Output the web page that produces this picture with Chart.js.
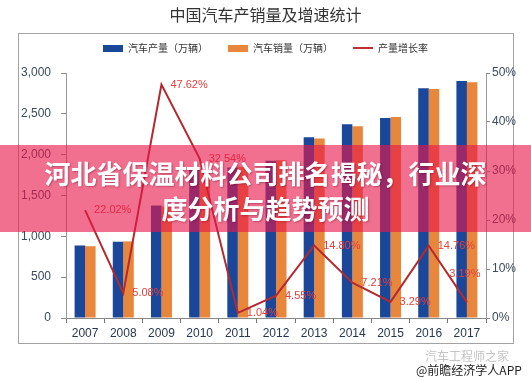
<!DOCTYPE html>
<html>
<head>
<meta charset="utf-8">
<script src="https://cdn.jsdelivr.net/npm/chart.js@4.4.0/dist/chart.umd.min.js"></script>
<style>
    html, body { margin: 0; padding: 0; background: #fff; }
    #wrap { position: relative; width: 531px; height: 380px; overflow: hidden; font-family: "Noto Sans CJK SC", sans-serif; }
    #frame { position: absolute; left: 18px; top: 33px; width: 494px; height: 309px; border: 1px solid #a3a3a3; }
    #myChart { position: absolute; left: 0; top: 0; }
    #banner {
        position: absolute; left: 0; top: 145px; width: 531px; height: 87px;
        background: rgba(232, 22, 74, 0.62); color: #fff; text-align: center;
        font-weight: bold; font-size: 26px; line-height: 35px; padding-top: 10px; box-sizing: border-box;
        text-shadow: 1px 1px 2px rgba(90, 0, 30, 0.35);
    }
    #src1 { position: absolute; left: 425px; top: 347px; font-size: 12px; color: #c4c4c4; }
    #src2 { position: absolute; left: 416px; top: 361px; font-size: 12px; color: #222; }
</style>
</head>
<body>
<div id="wrap">
    <div id="frame"></div>
    <canvas id="myChart" width="531" height="380"></canvas>
    <div id="banner">河北省保温材料公司排名揭秘，行业深<br>度分析与趋势预测</div>
    <div id="src1">汽车工程师之家</div>
    <div id="src2">@前瞻经济学人APP</div>
</div>
<script>
    const years = ['2007', '2008', '2009', '2010', '2011', '2012', '2013', '2014', '2015', '2016', '2017'];
    const produccion = [888, 934, 1379, 1826, 1842, 1927, 2212, 2372, 2450, 2812, 2902];
    const ventas = [879, 938, 1364, 1806, 1851, 1931, 2198, 2349, 2460, 2803, 2888];
    const crecimiento = [22.02, 5.08, 47.62, 32.54, 1.04, 4.55, 14.80, 7.21, 3.29, 14.76, 3.19];

    const narrow = '"Liberation Sans Narrow", "Arial Narrow", "Liberation Sans", sans-serif';

    // marcas de la leyenda (rectangulo / linea)
    const marca = (color, w, h) => {
        const c = document.createElement('canvas');
        c.width = w; c.height = h;
        const g = c.getContext('2d');
        g.fillStyle = color;
        g.fillRect(0, 0, w, h);
        return c;
    };

    // etiquetas de porcentaje junto a cada punto
    const rateLabels = {
        id: 'rateLabels',
        afterDatasetsDraw(chart) {
            const meta = chart.getDatasetMeta(2);
            const ctx = chart.ctx;
            ctx.save();
            ctx.font = '11px ' + narrow;
            ctx.fillStyle = '#e2403c';
            ctx.textBaseline = 'middle';
            meta.data.forEach((pt, i) => {
                const txt = crecimiento[i].toFixed(2) + '%';
                if (i === meta.data.length - 1) {
                    ctx.textAlign = 'center';
                    ctx.fillText(txt, pt.x - 2, pt.y - 28);
                } else {
                    ctx.textAlign = 'left';
                    ctx.fillText(txt, pt.x + 9, pt.y);
                }
            });
            ctx.restore();
        }
    };

    const ctx = document.getElementById('myChart').getContext('2d');
    new Chart(ctx, {
        type: 'bar',
        data: {
            labels: years,
            datasets: [{
                label: '汽车产量（万辆）',
                data: produccion,
                backgroundColor: '#1a479a',
                pointStyle: marca('#1a479a', 20, 7),
                yAxisID: 'y',
                order: 2
            }, {
                label: '汽车销量（万辆）',
                data: ventas,
                backgroundColor: '#e8863c',
                pointStyle: marca('#e8863c', 20, 7),
                yAxisID: 'y',
                order: 2
            }, {
                type: 'line',
                label: '产量增长率',
                data: crecimiento,
                borderColor: '#b42a2e',
                backgroundColor: '#b42a2e',
                borderWidth: 2,
                pointRadius: 0,
                pointStyle: marca('#c0302f', 20, 2),
                tension: 0,
                yAxisID: 'y1',
                order: 1
            }]
        },
        options: {
            responsive: false,
            animation: false,
            layout: { padding: { left: 0, right: 0, top: 0, bottom: 36 } },
            datasets: {
                bar: { categoryPercentage: 0.55, barPercentage: 1.0 }
            },
            plugins: {
                title: {
                    display: true,
                    text: '中国汽车产销量及增速统计',
                    color: '#333',
                    font: { family: '"Noto Sans CJK SC", sans-serif', size: 16, weight: 'normal', lineHeight: 1 },
                    padding: { top: 7, bottom: 0 }
                },
                legend: {
                    labels: {
                        usePointStyle: true,
                        pointStyleWidth: 20,
                        padding: 20,
                        color: '#333',
                        font: { family: '"Noto Sans CJK SC", sans-serif', size: 10 },
                        sort: (a, b) => a.datasetIndex - b.datasetIndex
                    }
                },
                tooltip: { enabled: false }
            },
            scales: {
                x: {
                    grid: { drawOnChartArea: false, tickLength: 5, color: '#777' },
                    border: { color: '#888' },
                    ticks: { color: '#26384f', padding: 3, font: { family: narrow, size: 12 } },
                    afterFit: (s) => { s.height = 26; }
                },
                // eje vacio arriba, solo para dejar aire bajo la leyenda
                xTop: {
                    type: 'category',
                    position: 'top',
                    grid: { display: false },
                    border: { display: false },
                    ticks: { display: false },
                    afterFit: (s) => { s.height = 10; }
                },
                y: {
                    position: 'left',
                    min: 0, max: 3000,
                    ticks: { stepSize: 500, color: '#3b4a5c', padding: 10, font: { family: narrow, size: 12 } },
                    grid: { drawOnChartArea: false, tickLength: 5, color: '#888' },
                    border: { color: '#999' },
                    afterFit: (s) => { s.width = 66; }
                },
                y1: {
                    position: 'right',
                    min: 0, max: 50,
                    ticks: { stepSize: 10, color: '#3b4a5c', padding: 2, font: { family: narrow, size: 12 },
                        callback: (v) => v + '%' },
                    grid: { drawOnChartArea: false, tickLength: 4, color: '#888' },
                    border: { color: '#999' },
                    afterFit: (s) => { s.width = 45; }
                }
            }
        },
        plugins: [rateLabels]
    });
</script>
</body>
</html>
